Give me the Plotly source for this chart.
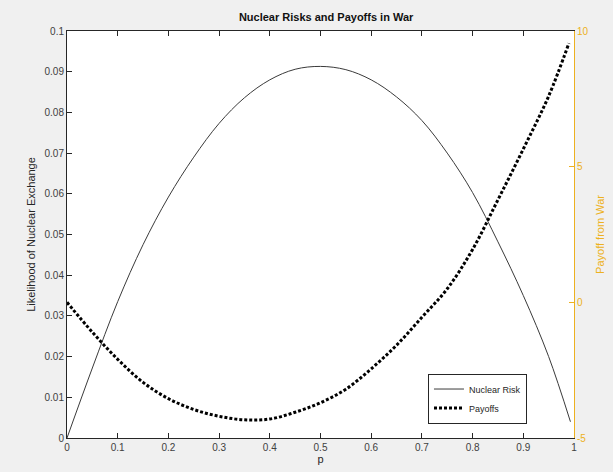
import plotly.graph_objects as go

# Nuclear risk (left axis)
p_risk = [0, 0.05, 0.1, 0.15, 0.2, 0.25, 0.3, 0.35, 0.4, 0.45, 0.5, 0.55, 0.6,
          0.65, 0.7, 0.75, 0.8, 0.85, 0.9, 0.95, 0.993]
risk = [0, 0.0172, 0.0335, 0.0475, 0.0592, 0.0690, 0.0773, 0.0836, 0.0880, 0.0906, 0.0913,
        0.0905, 0.0880, 0.0838, 0.0780, 0.0700, 0.0603, 0.0482, 0.0350, 0.0200, 0.0040]

# Payoffs (right axis)
p_pay = [0, 0.05, 0.1, 0.15, 0.2, 0.25, 0.3, 0.35, 0.4, 0.45, 0.5, 0.55, 0.6,
         0.65, 0.7, 0.75, 0.8, 0.85, 0.9, 0.95, 0.99]
payoff = [0, -1.1, -2.1, -2.95, -3.55, -3.95, -4.2, -4.33, -4.3, -4.05, -3.7, -3.2, -2.45,
          -1.58, -0.55, 0.5, 1.95, 3.78, 5.65, 7.6, 9.55]

x_ticks = [0, 0.1, 0.2, 0.3, 0.4, 0.5, 0.6, 0.7, 0.8, 0.9, 1]
x_labels = ["0", "0.1", "0.2", "0.3", "0.4", "0.5", "0.6", "0.7", "0.8", "0.9", "1"]
y_ticks = [0, 0.01, 0.02, 0.03, 0.04, 0.05, 0.06, 0.07, 0.08, 0.09, 0.1]
y_labels = ["0", "0.01", "0.02", "0.03", "0.04", "0.05", "0.06", "0.07", "0.08", "0.09", "0.1"]
y2_ticks = [-5, 0, 5, 10]
y2_labels = ["-5", "0", "5", "10"]

DARK = "#262626"
GOLD = "#EDB120"
FONT = "Liberation Sans, Arial, sans-serif"

fig = go.Figure()
fig.add_trace(go.Scatter(x=p_risk, y=risk, mode="lines", name="Nuclear Risk",
                         line=dict(color="#3a3a3a", width=1, shape="spline", smoothing=1)))
fig.add_trace(go.Scatter(x=p_pay, y=payoff, mode="lines", name="Payoffs", yaxis="y2",
                         line=dict(color="black", width=3, dash="3px,2px", shape="spline", smoothing=1)))

fig.update_layout(
    width=613, height=472,
    margin=dict(l=67, r=39, t=31, b=34),
    paper_bgcolor="#F0F0F0", plot_bgcolor="white",
    font=dict(family=FONT, size=10, color=DARK),
    title=dict(text="<b>Nuclear Risks and Payoffs in War</b>", x=0.532, xanchor="center",
               y=1 - 17 / 472, yanchor="middle", yref="container", pad=dict(t=0, b=0),
               font=dict(size=11, color="#111111")),
    xaxis=dict(range=[0, 1], tickvals=x_ticks, ticktext=x_labels, ticks="inside", ticklen=5,
               tickcolor=DARK, showline=True, linecolor=DARK, linewidth=1, mirror="ticks",
               showgrid=False, zeroline=False, automargin=False,
               tickfont=dict(size=10, color="#404040"),
               title=dict(text="p", standoff=2, font=dict(size=11, color=DARK))),
    yaxis=dict(range=[0, 0.1], tickvals=y_ticks, ticktext=y_labels, ticks="inside", ticklen=5,
               tickcolor=DARK, showline=True, linecolor=DARK, linewidth=1,
               showgrid=False, zeroline=False, automargin=False,
               tickfont=dict(size=10, color="#404040"),
               title=dict(text="Likelihood of Nuclear Exchange", standoff=6,
                          font=dict(size=11, color=DARK))),
    yaxis2=dict(range=[-5, 10], tickvals=y2_ticks, ticktext=y2_labels, overlaying="y",
                side="right", ticks="inside", ticklen=5, tickcolor=GOLD, showline=True,
                linecolor=GOLD, linewidth=1, showgrid=False, zeroline=False, automargin=False,
                tickfont=dict(size=10, color=GOLD),
                title=dict(text="Payoff from War", standoff=8, font=dict(size=11, color=GOLD))),
    legend=dict(x=0.712, y=0.097, xanchor="left", yanchor="middle", bgcolor="white",
                bordercolor=DARK, borderwidth=1, font=dict(size=9, color=DARK),
                itemwidth=30, tracegroupgap=0),
    showlegend=True,
)

fig.write_html(
    "out.html",
    config={"displayModeBar": False},
    post_script="document.body.style.margin='0';document.body.style.background='#F0F0F0';",
)
